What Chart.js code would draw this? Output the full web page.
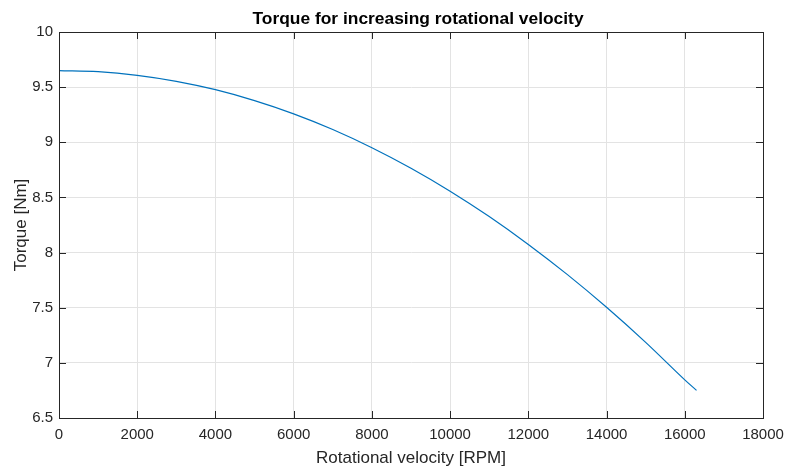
<!DOCTYPE html>
<html>
<head>
<meta charset="utf-8">
<script src="https://cdn.jsdelivr.net/npm/chart.js"></script>
<style>
  html, body { margin: 0; padding: 0; background: #fff; }
  #wrap { width: 786px; height: 469px; }
</style>
</head>
<body>
<div id="wrap"><canvas id="torqueChart" width="786" height="469"></canvas></div>
<script>
// Valores (RPM vs par)
const rpmValues = [0, 1000, 2000, 3000, 4000, 5000, 6000, 7000, 8000, 9000, 10000, 11000, 12000, 13000, 14000, 15000, 16000, 16300];
const torqueValues = [9.65, 9.64, 9.607, 9.553, 9.477, 9.378, 9.258, 9.116, 8.951, 8.765, 8.557, 8.327, 8.074, 7.80, 7.504, 7.186, 6.846, 6.75];
const chartTitle = 'Torque for increasing rotational velocity';
const xLabel = 'Rotational velocity [RPM]';
const yLabel = 'Torque [Nm]';

const textColor = '#262626';
const fontFamily = '"Liberation Sans", Arial, Helvetica, sans-serif';

// Marco, ticks hacia adentro y título sobre el área del gráfico
const matlabBox = {
  id: 'matlabBox',
  afterDraw(chart) {
    const ctx = chart.ctx;
    const a = chart.chartArea;
    const xs = chart.scales.x, ys = chart.scales.y;
    ctx.save();
    ctx.strokeStyle = textColor;
    ctx.lineWidth = 1;
    ctx.beginPath();
    xs.ticks.forEach(t => {
      const px = Math.round(xs.getPixelForValue(t.value)) + 0.5;
      ctx.moveTo(px, a.bottom); ctx.lineTo(px, a.bottom - 7);
      ctx.moveTo(px, a.top); ctx.lineTo(px, a.top + 7);
    });
    ys.ticks.forEach(t => {
      const py = Math.round(ys.getPixelForValue(t.value)) + 0.5;
      ctx.moveTo(a.left, py); ctx.lineTo(a.left + 7, py);
      ctx.moveTo(a.right, py); ctx.lineTo(a.right - 7, py);
    });
    ctx.stroke();
    ctx.strokeRect(Math.round(a.left) + 0.5, Math.round(a.top) + 0.5,
      Math.round(a.right - a.left), Math.round(a.bottom - a.top));
    ctx.fillStyle = '#000';
    ctx.font = 'bold 17.4px ' + fontFamily;
    ctx.textAlign = 'center';
    ctx.textBaseline = 'middle';
    ctx.fillText(chartTitle, (a.left + a.right) / 2 + 7, 19);
    ctx.restore();
  }
};

new Chart(document.getElementById('torqueChart'), {
  type: 'line',
  data: {
    datasets: [{
      label: 'Torque',
      data: rpmValues.map((r, i) => ({x: r, y: torqueValues[i]})),
      borderColor: '#0072BD',
      borderWidth: 1.2,
      pointRadius: 0,
      cubicInterpolationMode: 'monotone',
      fill: false
    }]
  },
  options: {
    responsive: false,
    animation: false,
    layout: { padding: { left: 0, top: 32, right: 23, bottom: 0 } },
    plugins: { legend: { display: false }, tooltip: { enabled: false }, title: { display: false } },
    scales: {
      x: {
        type: 'linear', min: 0, max: 18000,
        ticks: { stepSize: 2000, color: textColor, padding: 8, maxRotation: 0,
          font: { family: fontFamily, size: 15 }, callback: v => String(v) },
        grid: { color: '#e3e3e3', drawTicks: false },
        border: { color: textColor },
        title: { display: true, text: xLabel, color: textColor,
          font: { family: fontFamily, size: 17 }, padding: { top: 0, bottom: 0 } },
        afterFit: s => { s.height = 51; s.paddingLeft = 0; s.paddingRight = 0; }
      },
      y: {
        min: 6.5, max: 10,
        ticks: { stepSize: 0.5, color: textColor, padding: 6,
          font: { family: fontFamily, size: 15 }, callback: v => String(v) },
        grid: { color: '#e3e3e3', drawTicks: false },
        border: { color: textColor },
        title: { display: true, text: yLabel, color: textColor,
          font: { family: fontFamily, size: 17 }, padding: { top: 11, bottom: 0 } },
        afterFit: s => { s.width = 59; s.paddingTop = 0; s.paddingBottom = 0; }
      }
    }
  },
  plugins: [matlabBox]
});
</script>
</body>
</html>
